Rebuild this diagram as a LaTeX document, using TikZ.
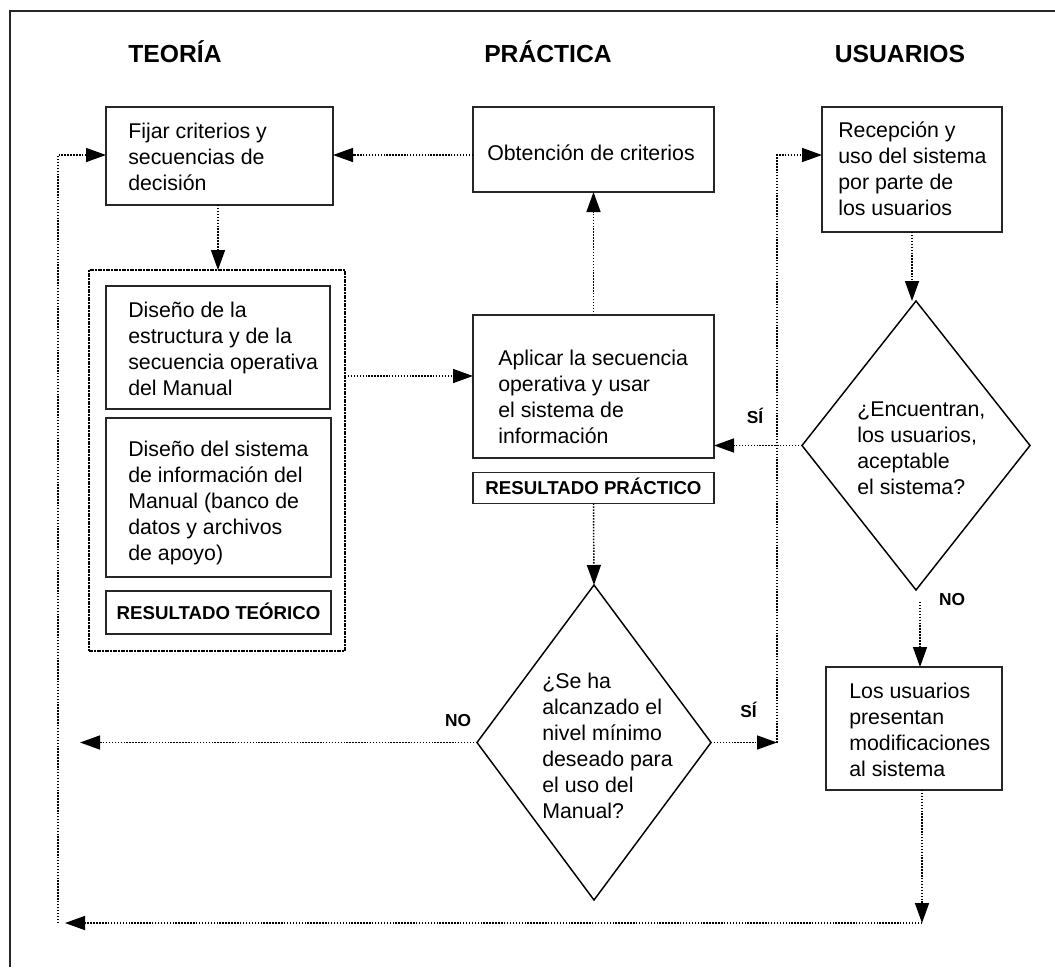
\documentclass[tikz,border=0pt]{standalone}
\usepackage{fontspec}
\setmainfont{Liberation Sans}
\usetikzlibrary{arrows.meta,shapes.geometric}
\begin{document}
\begin{tikzpicture}[x=0.75pt,y=-0.75pt,
  box/.style 2 args={draw=black!85, line width=0.8pt, rectangle, minimum width={#1*0.75pt}, minimum height={#2*0.75pt}, inner sep=0pt, outer sep=0pt},
  dia/.style 2 args={draw=black, line width=1.1pt, diamond, minimum width={#1*0.75pt}, minimum height={#2*0.75pt}, inner sep=0pt, outer sep=0pt},
  grpbox/.style 2 args={draw=black, line width=1.3pt, dash pattern=on 3pt off 1pt on 1pt off 1pt, rectangle, minimum width={#1*0.75pt}, minimum height={#2*0.75pt}, inner sep=0pt, outer sep=0pt},
  txt/.style={font=\fontsize{16}{19.5}\selectfont, align=left, inner sep=0pt, anchor=west},
  bld/.style={font=\bfseries\fontsize{14}{16}\selectfont, inner sep=0pt, anchor=base},
  lbl/.style={font=\bfseries\fontsize{13}{15}\selectfont, inner sep=0pt, anchor=base},
  head/.style={font=\bfseries\fontsize{18.5}{22}\selectfont, inner sep=0pt, anchor=base},
  dotline/.style={draw=black, line width=1.1pt, dash pattern=on 1.1pt off 1.1pt},
  conn/.style={dotline, -{Triangle[length=15pt,width=10.5pt]}}
]
\useasboundingbox (0,0) rectangle (1055,967);
\draw[line width=1.5pt, black!85] (10,967) -- (10,11) -- (1055,11);

% headings
\node[head] (hT) at (175,62) {TEORÍA};
\node[head] (hP) at (548,62) {PRÁCTICA};
\node[head] (hU) at (900,62) {USUARIOS};

% boxes
\node[box={227}{98}] (fij) at (219.5,156) {};
\node[txt] (tfij) at (128,157) {Fijar criterios y\\secuencias de\\decisión};

\node[box={241}{85}] (obt) at (593.5,149.5) {};
\node[font=\fontsize{16}{19.5}\selectfont, inner sep=0pt] (tobt) at (591,153) {Obtención de criterios};

\node[box={180}{125}] (rec) at (912,169.5) {};
\node[txt] (trec) at (838,169) {Recepción y\\uso del sistema\\por parte de\\los usuarios};

\node[grpbox={256}{381}] (grp) at (217,460.5) {};

\node[box={224}{123}] (db1) at (218,347.5) {};
\node[txt] (tdb1) at (128,349) {Diseño de la\\estructura y de la\\secuencia operativa\\del Manual};

\node[box={225}{159}] (db2) at (218.5,497.5) {};
\node[txt] (tdb2) at (128,503) {Diseño del sistema\\de información del\\Manual (banco de\\datos y archivos\\de apoyo)};

\node[box={225}{43}] (rt) at (218.5,612.5) {};
\node[bld] (trt) at (218.5,619) {RESULTADO TEÓRICO};

\node[box={241}{143}] (ap) at (593.5,386.5) {};
\node[txt] (tap) at (498,397) {Aplicar la secuencia\\operativa y usar\\el sistema de\\información};

\node[box={241}{31}] (rp) at (593.5,488) {};
\node[bld] (trp) at (593.5,494.5) {RESULTADO PRÁCTICO};

\node[dia={228}{289}] (d2) at (916,445.5) {};
\node[txt] (td2) at (857,448) {¿Encuentran,\\los usuarios,\\aceptable\\el sistema?};

\node[dia={234}{315}] (d1) at (594,742.5) {};
\node[txt] (td1) at (542,746) {¿Se ha\\alcanzado el\\nivel mínimo\\deseado para\\el uso del\\Manual?};

\node[box={176}{123}] (lu) at (914,728.5) {};
\node[txt] (tlu) at (849,730) {Los usuarios\\presentan\\modificaciones\\al sistema};

% labels
\node[lbl] (lsi1) at (755,423) {SÍ};
\node[lbl] (lno1) at (458,726) {NO};
\node[lbl] (lsi2) at (748.5,717) {SÍ};
\node[lbl] (lno2) at (952,605) {NO};

% helper coordinates
\coordinate (yT) at (0,155);
\coordinate (yA) at (0,376);
\coordinate (noEnd) at (80,742.5);
\coordinate (siC) at (777,742.5);
\coordinate (no2s) at (920,602);
\coordinate (lux) at (922,0);
\coordinate (bot) at (922,923);
\coordinate (botEnd) at (65,923);
\coordinate (loop) at (58,923);

% connectors
\draw[conn] (obt.west |- yT) -- (fij.east |- yT);
\draw[conn] (loop) |- (fij.west |- yT);
\draw[conn] (fij.south -| 218,0) -- (grp.north -| 218,0);
\draw[conn] (grp.east |- yA) -- (ap.west |- yA);
\draw[conn] (ap.north) -- (obt.south);
\draw[conn] (rp.south) -- (d1.north);
\draw[conn] (d1.west) -- (noEnd);
\draw[conn] (d1.east) -- (siC);
\draw[conn] (siC) |- (rec.west |- yT);
\draw[conn] (rec.south) -- (rec.south |- d2.north);
\draw[conn] (d2.west) -- (ap.east |- d2.west);
\draw[conn] (no2s) -- (no2s |- lu.north);
\draw[conn] (lu.south -| lux) -- (bot);
\draw[conn] (bot) -- (botEnd);
\end{tikzpicture}
\end{document}
